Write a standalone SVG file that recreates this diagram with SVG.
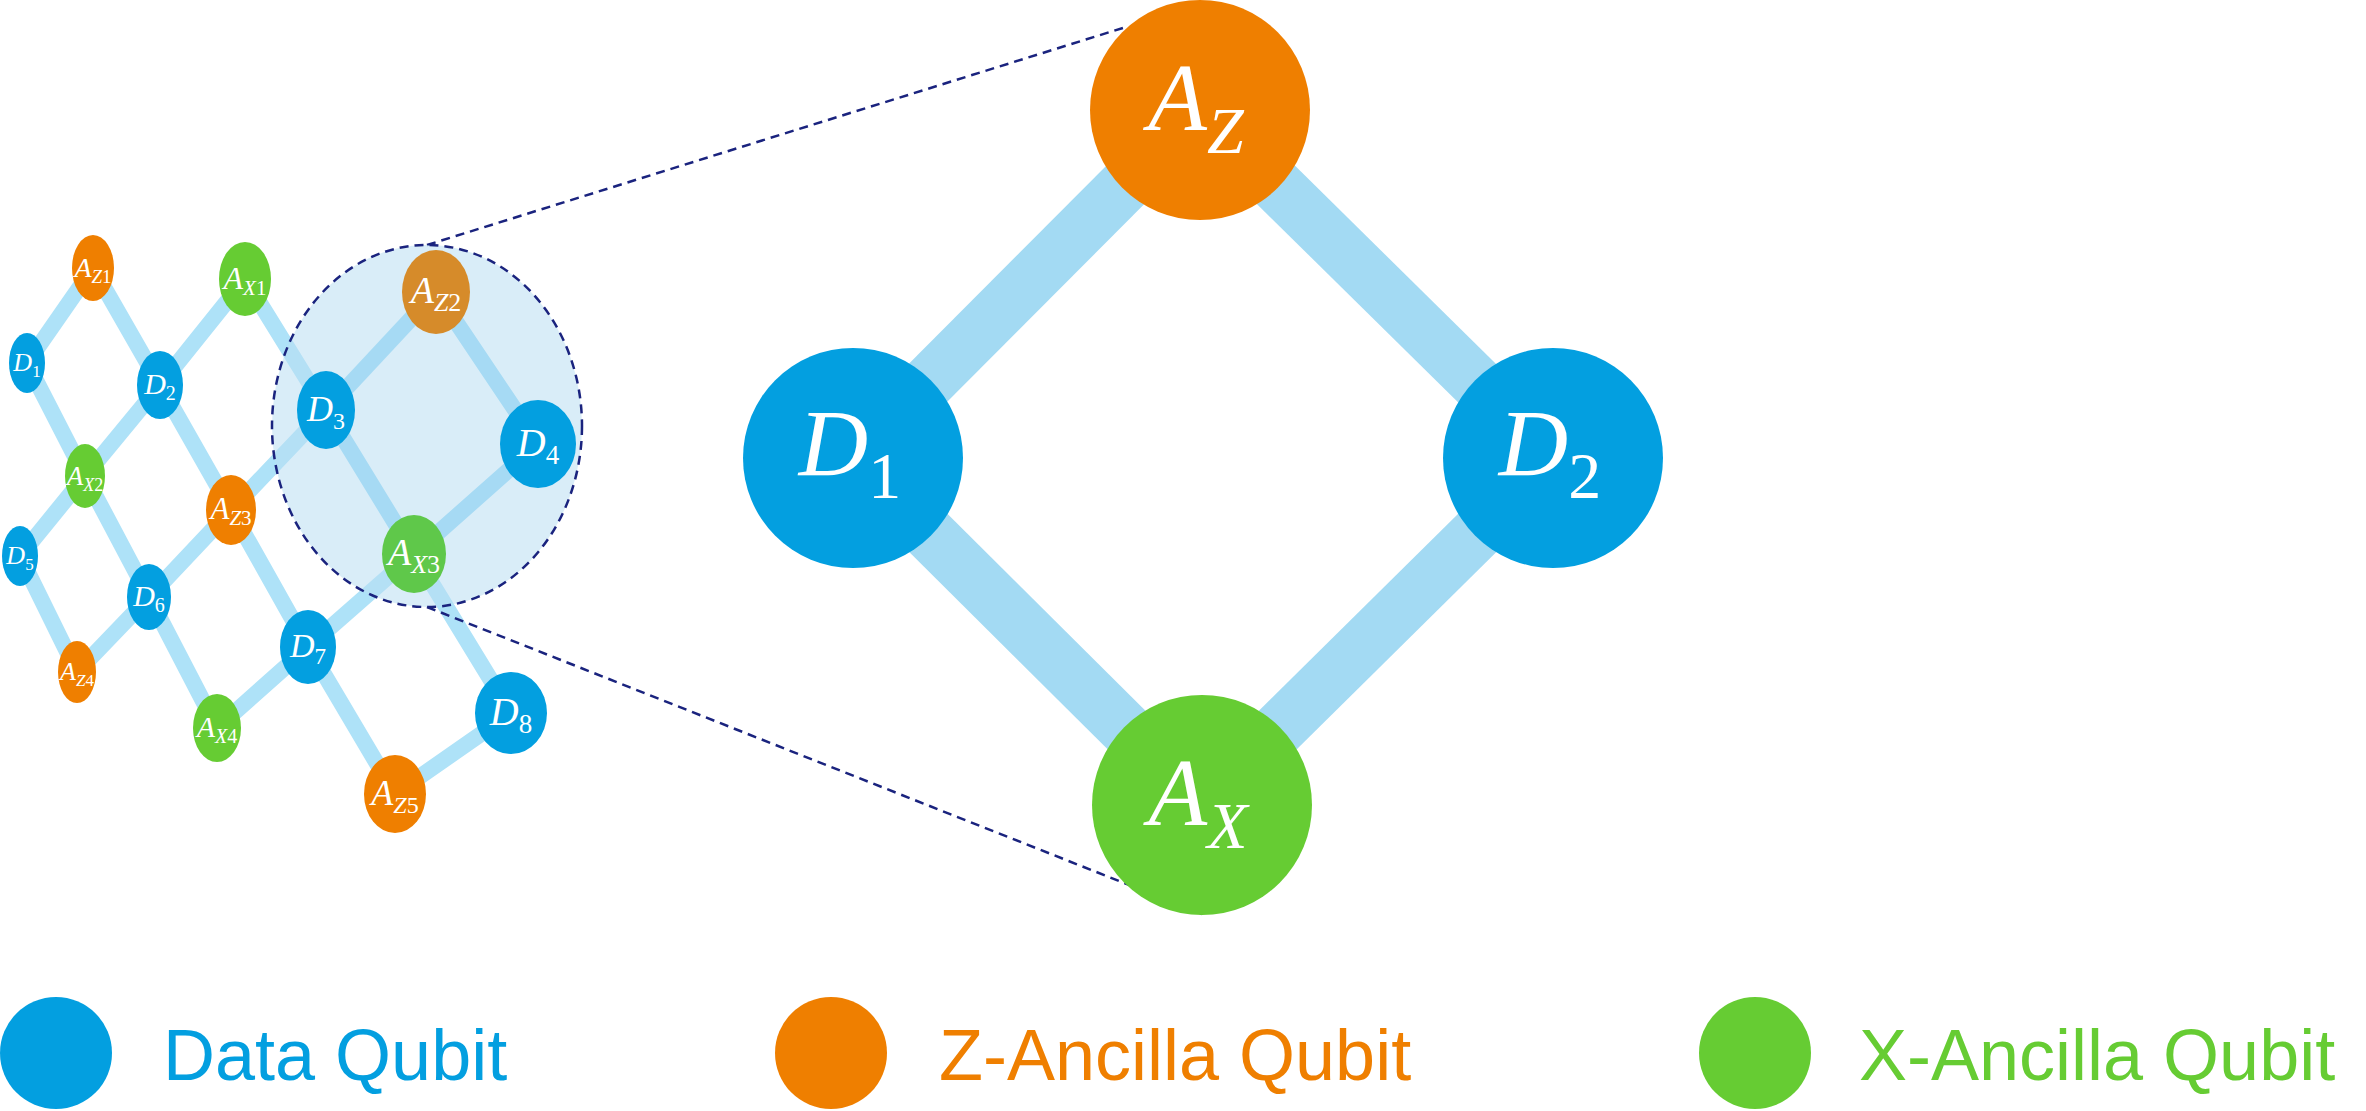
<svg xmlns="http://www.w3.org/2000/svg" width="2366" height="1111" viewBox="0 0 2366 1111">
<style>
.e{stroke:#aee2f8;stroke-width:16;stroke-linecap:round;fill:none}
.ei{stroke:#8fd6f5;stroke-width:16;stroke-linecap:round;fill:none}
.eb{stroke:#a3daf3;stroke-width:54;fill:none}
.d{fill:#039fe0}.z{fill:#ef7f00}.x{fill:#66cc33}
.l{font-family:"Liberation Serif",serif;font-style:italic;fill:#fff;text-anchor:middle}
.n{font-style:normal}
.dash{stroke:#1a237e;stroke-width:2.5;stroke-dasharray:9 6;fill:none}
.area{stroke:#1a237e;stroke-width:2.5;stroke-dasharray:9 6;fill:#b9def3;fill-opacity:0.55}
.lg{font-family:"Liberation Sans",sans-serif;font-size:72px}
</style>
<g id="connectors">
<line class="e" x1="93" y1="268" x2="27" y2="363"/>
<line class="e" x1="93" y1="268" x2="160" y2="385"/>
<line class="e" x1="27" y1="363" x2="85" y2="476"/>
<line class="e" x1="85" y1="476" x2="160" y2="385"/>
<line class="e" x1="160" y1="385" x2="245" y2="279"/>
<line class="e" x1="245" y1="279" x2="326" y2="410"/>
<line class="e" x1="160" y1="385" x2="231" y2="510"/>
<line class="e" x1="85" y1="476" x2="20" y2="556"/>
<line class="e" x1="85" y1="476" x2="149" y2="597"/>
<line class="e" x1="20" y1="556" x2="77" y2="672"/>
<line class="e" x1="77" y1="672" x2="149" y2="597"/>
<line class="e" x1="149" y1="597" x2="231" y2="510"/>
<line class="e" x1="231" y1="510" x2="326" y2="410"/>
<line class="e" x1="231" y1="510" x2="308" y2="647"/>
<line class="e" x1="149" y1="597" x2="217" y2="728"/>
<line class="e" x1="217" y1="728" x2="308" y2="647"/>
<line class="e" x1="308" y1="647" x2="414" y2="554"/>
<line class="e" x1="308" y1="647" x2="395" y2="794"/>
<line class="e" x1="414" y1="554" x2="511" y2="713"/>
<line class="e" x1="511" y1="713" x2="395" y2="794"/>
<line class="ei" x1="326" y1="410" x2="436" y2="292"/>
<line class="ei" x1="436" y1="292" x2="538" y2="444"/>
<line class="ei" x1="326" y1="410" x2="414" y2="554"/>
<line class="ei" x1="538" y1="444" x2="414" y2="554"/>
<line class="eb" x1="1200" y1="110" x2="853" y2="458"/>
<line class="eb" x1="1200" y1="110" x2="1553" y2="458"/>
<line class="eb" x1="853" y1="458" x2="1202" y2="805"/>
<line class="eb" x1="1553" y1="458" x2="1202" y2="805"/>
<line class="dash" x1="427" y1="245" x2="1126" y2="27"/>
<line class="dash" x1="427" y1="607" x2="1205" y2="915"/>
</g>
<g id="zoom-area"><ellipse class="area" cx="427" cy="426" rx="155" ry="181"/></g>
<g id="Az1"><ellipse class="z" cx="93" cy="268" rx="21" ry="33"/><text class="l" x="93" y="277" font-size="28">A<tspan dy="6" font-size="19">Z<tspan class="n">1</tspan></tspan></text></g>
<g id="Ax1"><ellipse class="x" cx="245" cy="279" rx="26" ry="37"/><text class="l" x="245" y="289" font-size="32">A<tspan dy="6" font-size="21">X<tspan class="n">1</tspan></tspan></text></g>
<g id="D1"><ellipse class="d" cx="27" cy="363" rx="18" ry="30"/><text class="l" x="27" y="371" font-size="26">D<tspan class="n" dy="6" font-size="17">1</tspan></text></g>
<g id="D2"><ellipse class="d" cx="160" cy="385" rx="23" ry="34"/><text class="l" x="160" y="394" font-size="30">D<tspan class="n" dy="6" font-size="20">2</tspan></text></g>
<g id="Az2"><ellipse fill="#d68b2a" cx="436" cy="292" rx="34" ry="42"/><text class="l" x="436" y="303" font-size="38">A<tspan dy="8" font-size="26">Z<tspan class="n">2</tspan></tspan></text></g>
<g id="D3"><ellipse class="d" cx="326" cy="410" rx="29" ry="39"/><text class="l" x="326" y="421" font-size="36">D<tspan class="n" dy="8" font-size="24">3</tspan></text></g>
<g id="D4"><ellipse class="d" cx="538" cy="444" rx="38" ry="44"/><text class="l" x="538" y="456" font-size="40">D<tspan class="n" dy="8" font-size="27">4</tspan></text></g>
<g id="Ax2"><ellipse class="x" cx="85" cy="476" rx="20" ry="32"/><text class="l" x="85" y="485" font-size="27">A<tspan dy="6" font-size="18">X<tspan class="n">2</tspan></tspan></text></g>
<g id="Az3"><ellipse class="z" cx="231" cy="510" rx="25" ry="35"/><text class="l" x="231" y="519" font-size="31">A<tspan dy="6" font-size="21">Z<tspan class="n">3</tspan></tspan></text></g>
<g id="D5"><ellipse class="d" cx="20" cy="556" rx="18" ry="30"/><text class="l" x="20" y="564" font-size="26">D<tspan class="n" dy="6" font-size="17">5</tspan></text></g>
<g id="Ax3"><ellipse fill="#5fc84a" cx="414" cy="554" rx="32" ry="39"/><text class="l" x="414" y="565" font-size="38">A<tspan dy="8" font-size="26">X<tspan class="n">3</tspan></tspan></text></g>
<g id="D6"><ellipse class="d" cx="149" cy="597" rx="22" ry="33"/><text class="l" x="149" y="606" font-size="30">D<tspan class="n" dy="6" font-size="20">6</tspan></text></g>
<g id="D7"><ellipse class="d" cx="308" cy="647" rx="28" ry="37"/><text class="l" x="308" y="657" font-size="34">D<tspan class="n" dy="7" font-size="23">7</tspan></text></g>
<g id="Az4"><ellipse class="z" cx="77" cy="672" rx="19" ry="31"/><text class="l" x="77" y="680" font-size="26">A<tspan dy="6" font-size="17">Z<tspan class="n">4</tspan></tspan></text></g>
<g id="Ax4"><ellipse class="x" cx="217" cy="728" rx="24" ry="34"/><text class="l" x="217" y="737" font-size="30">A<tspan dy="6" font-size="20">X<tspan class="n">4</tspan></tspan></text></g>
<g id="D8"><ellipse class="d" cx="511" cy="713" rx="36" ry="41"/><text class="l" x="511" y="725" font-size="40">D<tspan class="n" dy="8" font-size="27">8</tspan></text></g>
<g id="Az5"><ellipse class="z" cx="395" cy="794" rx="31" ry="39"/><text class="l" x="395" y="805" font-size="36">A<tspan dy="8" font-size="24">Z<tspan class="n">5</tspan></tspan></text></g>
<g id="Az"><circle class="z" cx="1200" cy="110" r="110"/><text class="l" x="1196" y="130" font-size="96">A<tspan dy="23" font-size="66">Z</tspan></text></g>
<g id="D1big"><circle class="d" cx="853" cy="458" r="110"/><text class="l" x="850" y="476" font-size="96">D<tspan class="n" dy="22" font-size="66">1</tspan></text></g>
<g id="D2big"><circle class="d" cx="1553" cy="458" r="110"/><text class="l" x="1550" y="476" font-size="96">D<tspan class="n" dy="22" font-size="66">2</tspan></text></g>
<g id="Ax"><circle class="x" cx="1202" cy="805" r="110"/><text class="l" x="1198" y="825" font-size="96">A<tspan dy="23" font-size="66">X</tspan></text></g>
<g id="legend-data"><circle class="d" cx="56" cy="1053" r="56"/><text class="lg" x="163" y="1080" fill="#039fe0">Data Qubit</text></g>
<g id="legend-z"><circle class="z" cx="831" cy="1053" r="56"/><text class="lg" x="939" y="1080" fill="#ef7f00">Z-Ancilla Qubit</text></g>
<g id="legend-x"><circle class="x" cx="1755" cy="1053" r="56"/><text class="lg" x="1859" y="1080" fill="#66cc33">X-Ancilla Qubit</text></g>
</svg>
